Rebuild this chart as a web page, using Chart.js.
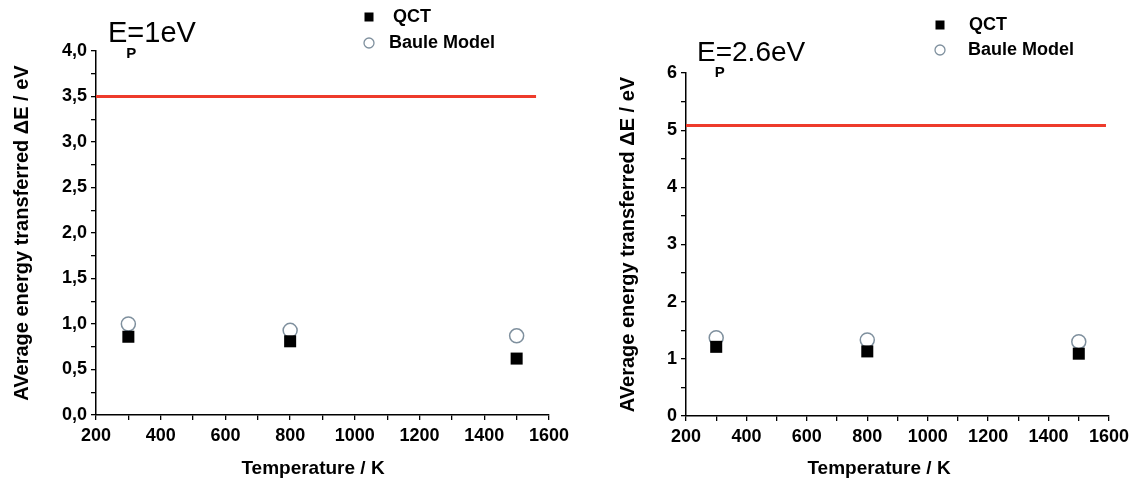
<!DOCTYPE html>
<html><head><meta charset="utf-8">
<script src="https://cdn.jsdelivr.net/npm/chart.js@4/dist/chart.umd.min.js"></script>
<style>
html,body{margin:0;padding:0;background:#fff;}
#wrap{position:relative;width:1130px;height:482px;overflow:hidden;}
.box{position:absolute;top:0;height:482px;}
</style></head><body>
<div id="wrap">
<div class="box" style="left:0;width:590px"><canvas id="c1" width="590" height="482"></canvas></div>
<div class="box" style="left:565px;width:565px"><canvas id="c2" width="565" height="482"></canvas></div>
</div>
<script>
// ---- data ----
const temperatures = [300, 800, 1500];
const qctLeft = [0.86, 0.81, 0.62];
const bauleLeft = [1.00, 0.93, 0.87];
const qctRight = [1.21, 1.13, 1.09];
const bauleRight = [1.37, 1.33, 1.30];
const limitXLeft = [200, 1560];
const limitYLeft = [3.5, 3.5];
const limitXRight = [200, 1590];
const limitYRight = [5.08, 5.08];
const xTickLabels = [200, 400, 600, 800, 1000, 1200, 1400, 1600];
const yTickLabelsLeft = ['0,0', '0,5', '1,0', '1,5', '2,0', '2,5', '3,0', '3,5', '4,0'];
const yTickLabelsRight = ['0', '1', '2', '3', '4', '5', '6'];
const seriesNames = ['QCT', 'Baule Model'];
const panelEnergies = ['=1eV', '=2.6eV'];
const xTitle = 'Temperature / K';
const yTitle = 'AVerage energy transferred \u0394E / eV';

const FONT = "'Liberation Sans', Arial, sans-serif";
const RED = '#ee3b2b';
const CIRCLE = '#7f909e';

function pts(xs, ys) { return xs.map((x, i) => ({ x: x, y: ys[i] })); }

const decorPlugin = {
  id: 'decor',
  afterDraw(chart, args, o) {
    const ctx = chart.ctx;
    ctx.save();
    // panel label E_P
    ctx.fillStyle = '#000';
    ctx.textBaseline = 'alphabetic';
    ctx.textAlign = 'left';
    ctx.font = o.efont + 'px ' + FONT;
    ctx.fillText('E', o.ex, o.ey);
    const ew = ctx.measureText('E').width;
    ctx.fillText(o.energy, o.ex + ew, o.ey);
    ctx.font = 'bold 15px ' + FONT;
    ctx.fillText('P', o.ex + ew - 1, o.ey + 16);
    // x axis title
    ctx.font = 'bold 19px ' + FONT;
    ctx.textAlign = 'center';
    ctx.textBaseline = 'middle';
    ctx.fillText(xTitle, o.xtx, 469);
    // legend
    const ds = chart.data.datasets;
    ctx.textAlign = 'left';
    ctx.font = 'bold 18px ' + FONT;
    ctx.fillStyle = '#000';
    ctx.fillRect(o.lx - 4.5, o.ly - 4.5, 9, 9);
    ctx.fillText(ds[0].label, o.tx1, o.ly);
    ctx.beginPath();
    ctx.arc(o.lx, o.ly + o.gap, 5, 0, Math.PI * 2);
    ctx.fillStyle = '#fff';
    ctx.fill();
    ctx.strokeStyle = CIRCLE;
    ctx.lineWidth = 1.3;
    ctx.stroke();
    ctx.fillStyle = '#000';
    ctx.fillText(ds[1].label, o.tx2, o.ly + o.gap);
    ctx.restore();
  }
};

function makeChart(id, qct, baule, lx, ly, yMax, yStep, yLabels, dims, decor) {
  const labelFor = v => {
    const idx = Math.round(v / (yStep * 2));
    if (Math.abs(v - idx * yStep * 2) < 1e-6) return yLabels[idx];
    return '';
  };
  return new Chart(document.getElementById(id), {
    type: 'scatter',
    data: {
      datasets: [
        { label: seriesNames[0], data: pts(temperatures, qct), pointStyle: 'rect',
          pointRadius: 8.5, pointHoverRadius: 8.5, backgroundColor: '#000', borderColor: '#000', borderWidth: 0 },
        { label: seriesNames[1], data: pts(temperatures, baule), pointStyle: 'circle',
          pointRadius: 7, pointHoverRadius: 7, backgroundColor: '#fff', borderColor: CIRCLE, borderWidth: 1.5 },
        { label: 'limit', type: 'line', data: pts(lx, ly), showLine: true, borderColor: RED,
          borderWidth: 3, pointRadius: 0, fill: false }
      ]
    },
    options: {
      responsive: false,
      animation: false,
      events: [],
      layout: { padding: { left: 0, top: dims.top, right: dims.right, bottom: 0 } },
      plugins: { legend: { display: false }, tooltip: { enabled: false }, decor: decor },
      scales: {
        x: {
          type: 'linear', min: 200, max: 1600,
          afterFit: s => { s.height = dims.xh; s.paddingLeft = 0; s.paddingRight = 0; },
          ticks: {
            stepSize: 100, autoSkip: false, maxRotation: 0, color: '#000', padding: 5,
            font: { family: FONT, size: 18, weight: 'bold' },
            callback: v => (xTickLabels.includes(v) ? String(v) : '')
          },
          grid: { drawOnChartArea: false, drawTicks: true, tickLength: 5, color: '#000', lineWidth: 1.3 },
          border: { display: true, color: '#000', width: 1.5 },
          title: { display: false }
        },
        y: {
          type: 'linear', min: 0, max: yMax,
          afterFit: s => { s.width = dims.yw; s.paddingTop = 0; s.paddingBottom = 0; },
          ticks: {
            stepSize: yStep, autoSkip: false, color: '#000', padding: 4,
            font: { family: FONT, size: 18, weight: 'bold' },
            callback: labelFor
          },
          grid: { drawOnChartArea: false, drawTicks: true, tickLength: 5, color: '#000', lineWidth: 1.3 },
          border: { display: true, color: '#000', width: 1.5 },
          title: { display: true, text: yTitle, color: '#000', padding: { top: dims.ytp, bottom: 0 },
            font: { family: FONT, size: 20, weight: 'bold' } }
        }
      }
    },
    plugins: [decorPlugin]
  });
}

makeChart('c1', qctLeft, bauleLeft, limitXLeft, limitYLeft, 4, 0.25, yTickLabelsLeft,
  { top: 51, right: 41, xh: 67, yw: 96, ytp: 10 },
  { ex: 108, ey: 42, efont: 29, energy: panelEnergies[0], lx: 369, ly: 17, gap: 26, tx1: 393, tx2: 389, xtx: 313 });

makeChart('c2', qctRight, bauleRight, limitXRight, limitYRight, 6, 0.5, yTickLabelsRight,
  { top: 73, right: 21, xh: 66, yw: 121, ytp: 51 },
  { ex: 132, ey: 61, efont: 28, energy: panelEnergies[1], lx: 375, ly: 25, gap: 25, tx1: 404, tx2: 403, xtx: 314 });
</script>
</body></html>
